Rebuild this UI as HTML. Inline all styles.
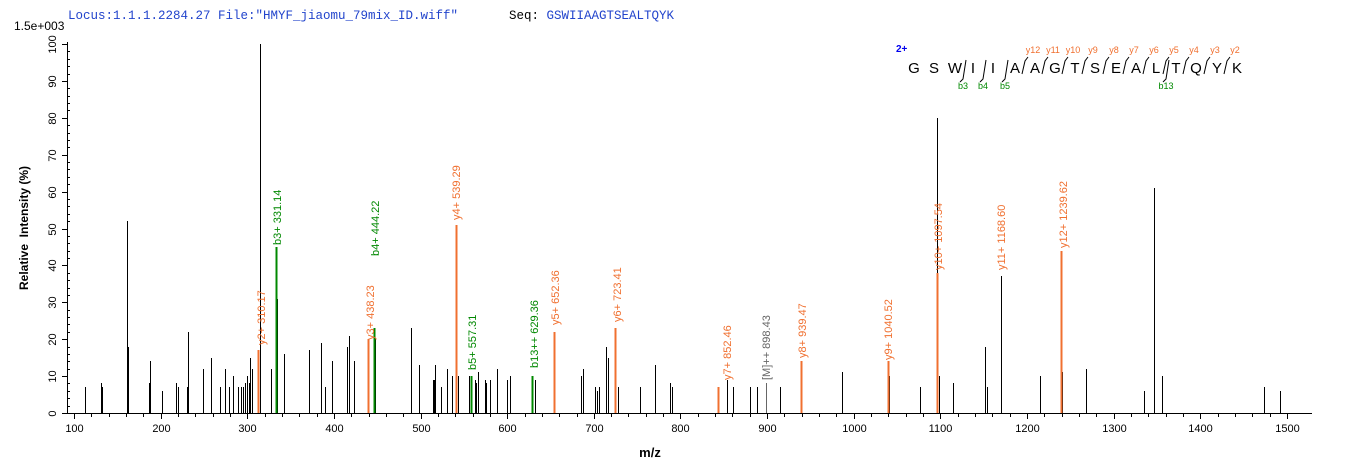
<!DOCTYPE html>
<html><head><meta charset="utf-8"><style>
body{margin:0;background:#fff;}
svg{display:block;font-family:"Liberation Sans",Arial,sans-serif;}
</style></head><body>
<svg id="s" width="1362" height="473" xmlns="http://www.w3.org/2000/svg">
<text x="68" y="19" font-family="Liberation Mono,monospace" font-size="12.5" fill="#2244cc">Locus:1.1.1.2284.27 File:"HMYF_jiaomu_79mix_ID.wiff"</text>
<text x="509" y="19" font-family="Liberation Mono,monospace" font-size="12.5" fill="#000">Seq: <tspan fill="#2244cc">GSWIIAAGTSEALTQYK</tspan></text>
<text x="14" y="30" font-size="12" fill="#000">1.5e+003</text>
<g id="g"></g>
</svg>
<script>
const g=document.getElementById('g');let h='';
const X=m=>74+(m-100)*0.8664, Y=p=>Math.round(413-p*3.69);
h+='<line x1="67.5" y1="42" x2="67.5" y2="413" stroke="#000"/><line x1="67" y1="413.5" x2="1312" y2="413.5" stroke="#000"/>';
for(let p=0;p<=100;p+=2){const y=Y(p)+0.5;h+=`<line x1="${p%10?67:62}" y1="${y}" x2="${p%10?70:67}" y2="${y}" stroke="#000"/>`;
 if(p%10==0)h+=`<text transform="translate(56,${y}) rotate(-90)" font-size="11" text-anchor="middle">${p}</text>`;}
for(let m=100;m<=1500;m+=20){const x=Math.round(X(m))+0.5;h+=`<line x1="${x}" y1="413" x2="${x}" y2="${m%100?417:419}" stroke="#000"/>`;
 if(m%100==0)h+=`<text x="${x}" y="432" font-size="11" text-anchor="middle">${m}</text>`;}
h+='<text transform="translate(28,228) rotate(-90)" font-size="12" font-weight="bold" text-anchor="middle">Relative&#160;&#160;Intensity (%)</text>';
h+='<text x="650" y="457" font-size="13" font-weight="bold" text-anchor="middle">m/z</text>';
const bk=[[85,7],[101,8],[102,7],[127,52],[128,18],[150,14],[149,8],[162,6],[176,8],[178,7],[187,7],[188,22],[203,12],[211,15],[220,7],[225,12],[229,7],[233,10],[238,7],[241,7],[243,7],[245,8],[247,10],[249,8],[250,15],[252,12],[260,100],[271,12],[277,31],[284,16],[309,17],[321,19],[325,7],[332,14],[347,18],[349,21],[354,14],[375,20],[411,23],[419,13],[433,9],[434,9],[435,13],[441,7],[447,12],[452,10],[458,10],[469,10],[475,9],[476,8],[478,11],[485,9],[486,8],[490,9],[497,12],[507,9],[510,10],[535,9],[581,10],[583,12],[595,7],[597,6],[599,7],[606,18],[608,15],[618,7],[640,7],[655,13],[670,8],[672,7],[727,9],[733,7],[750,7],[757,7],[780,7],[842,11],[889,10],[920,7],[937,80],[939,10],[953,8],[985,18],[987,7],[1001,37],[1040,10],[1062,11],[1086,12],[1144,6],[1154,61],[1162,10],[1264,7],[1280,6]];
bk.forEach(([x,p])=>h+=`<line x1="${x+0.5}" y1="413" x2="${x+0.5}" y2="${Y(p)}" stroke="#000"/>`);
const O='#f07030',G='#008800',Gr='#666';
const pk=[[258,17,O],[276,45,G],[368,20,O],[374,23,G],[456,51,O],[471,10,G],[532,10,G],[554,22,O],[615,23,O],[718,7,O],[766,8,Gr],[801,14,O],[888,14,O],[937,38,O],[1061,44,O]];
pk.forEach(([x,p,c])=>h+=`<line x1="${x+0.5}" y1="413" x2="${x+0.5}" y2="${Y(p)}" stroke="${c}" stroke-width="${c==Gr?1:2}"/>`);
const lb=[[261,345,'y2+ 310.17',O],[277,245,'b3+ 331.14',G],[370,340,'y3+ 438.23',O],[375,256,'b4+ 444.22',G],[456,220,'y4+ 539.29',O],[472,370,'b5+ 557.31',G],[534,368,'b13++ 629.36',G],[555,325,'y5+ 652.36',O],[617,322,'y6+ 723.41',O],[727,380,'y7+ 852.46',O],[766,380,'[M]++ 898.43',Gr],[802,358,'y8+ 939.47',O],[888,360,'y9+ 1040.52',O],[938,270,'y10+ 1097.54',O],[1001,270,'y11+ 1168.60',O],[1063,248,'y12+ 1239.62',O]];
lb.forEach(([x,y,t,c])=>h+=`<text transform="translate(${x+4},${y}) rotate(-90)" font-size="11" fill="${c}">${t}</text>`);
const seq='GSWIIAAGTSEALTQYK';const sx=[914,934,955,973,993,1015,1035,1055,1075,1095,1116,1136,1156,1176,1196,1217,1237];
h+='<text x="896" y="52" font-size="10" font-weight="bold" fill="#0000ee">2+</text>';
for(let i=0;i<17;i++)h+=`<text x="${sx[i]}" y="73" font-size="15" text-anchor="middle">${seq[i]}</text>`;
const yl=['y12','y11','y10','y9','y8','y7','y6','y5','y4','y3','y2'];
for(let k=0;k<11;k++){const i=6+k;const x=sx[i]-10;h+=`<polyline points="${x-3},74 ${x},61 ${x+3},57" fill="none" stroke="#000"/><text x="${x+8}" y="53" font-size="9" fill="${O}" text-anchor="middle">${yl[k]}</text>`;}
[[3,'b3'],[4,'b4'],[5,'b5'],[13,'b13']].forEach(([i,t])=>{const x=sx[i]-10;h+=`<polyline points="${x+3},60 ${x},79 ${x-3},82" fill="none" stroke="#000"/><text x="${x}" y="89" font-size="9" fill="${G}" text-anchor="middle">${t}</text>`;});
g.innerHTML=h;
</script>
</body></html>
